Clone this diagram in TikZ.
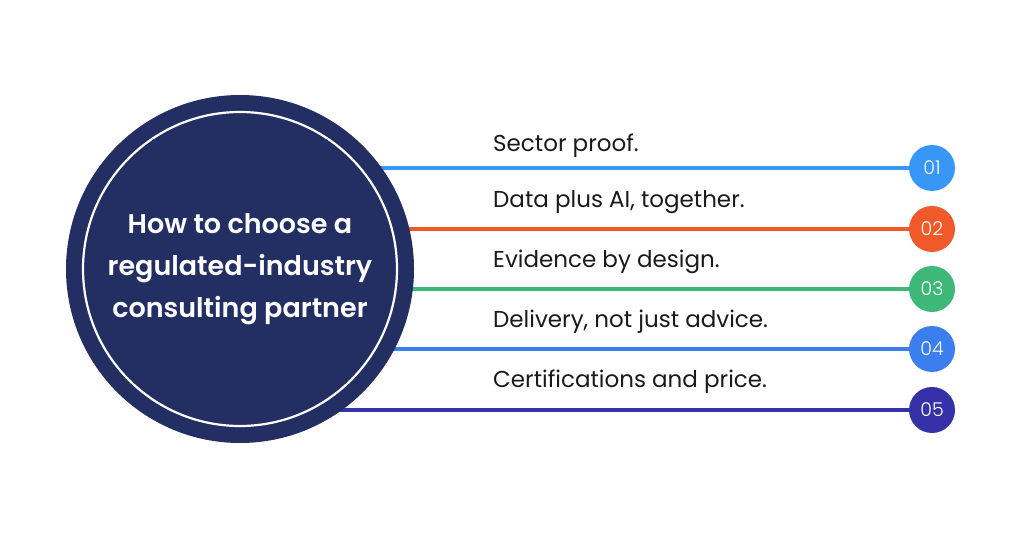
\documentclass[tikz,border=0pt]{standalone}
\usepackage{fontspec}
\setmainfont{Poppins}[BoldFont={Poppins SemiBold}]
\newfontfamily\numfont{Poppins Light}
\usetikzlibrary{positioning,backgrounds}
\definecolor{hubnavy}{HTML}{232E63}
\definecolor{stepone}{HTML}{3796F6}
\definecolor{steptwo}{HTML}{F05A2A}
\definecolor{stepthree}{HTML}{3DB879}
\definecolor{stepfour}{HTML}{3A7EF0}
\definecolor{stepfive}{HTML}{3531A8}
\definecolor{itemgray}{HTML}{1A1A1A}

\begin{document}
\begin{tikzpicture}[x=1pt,y=1pt,
    numdot/.style={circle,minimum size=46pt,inner sep=0pt,text=white,
      font=\numfont\fontsize{19}{19}\selectfont},
    itemtext/.style={anchor=base west,inner sep=0pt,text=itemgray,
      font=\fontsize{23}{23}\selectfont},
    bar/.style={line width=3.5pt}]
    \useasboundingbox (0,0) rectangle (1024,538);
    %hub
    \node[circle,fill=hubnavy,minimum size=348pt,inner sep=0pt] (hub) at (240,269) {};
    \draw[white,line width=2.2pt] (hub.center) circle (157);
    \node[text=white,align=center,font=\bfseries\fontsize{27}{42}\selectfont] (title) at (hub.center)
      {How to choose a\\regulated-industry\\consulting partner};
    %numbers
    \node[numdot,fill=stepone]   (n1) at (932,370) {01};
    \node[numdot,fill=steptwo]   (n2) at (932,309) {02};
    \node[numdot,fill=stepthree] (n3) at (932,249) {03};
    \node[numdot,fill=stepfour]  (n4) at (932,189) {04};
    \node[numdot,fill=stepfive]  (n5) at (932,128) {05};
    %bars
    \begin{scope}[on background layer]
    \coordinate (s1) at (hub.center |- n1);
    \coordinate (s2) at (hub.center |- n2);
    \coordinate (s3) at (hub.center |- n3);
    \coordinate (s4) at (hub.center |- n4);
    \coordinate (s5) at (hub.center |- n5);
    \draw[bar,stepone]   (s1) -- (n1);
    \draw[bar,steptwo]   (s2) -- (n2);
    \draw[bar,stepthree] (s3) -- (n3);
    \draw[bar,stepfour]  (s4) -- (n4);
    \draw[bar,stepfive]  (s5) -- (n5);
    \end{scope}
    %labels
    \node[itemtext] (l1) at (493,386) {Sector proof.};
    \node[itemtext] (l2) at (493,330) {Data plus AI, together.};
    \node[itemtext] (l3) at (493,270) {Evidence by design.};
    \node[itemtext] (l4) at (493,210) {Delivery, not just advice.};
    \node[itemtext] (l5) at (493,150) {Certifications and price.};
\end{tikzpicture}
\end{document}
